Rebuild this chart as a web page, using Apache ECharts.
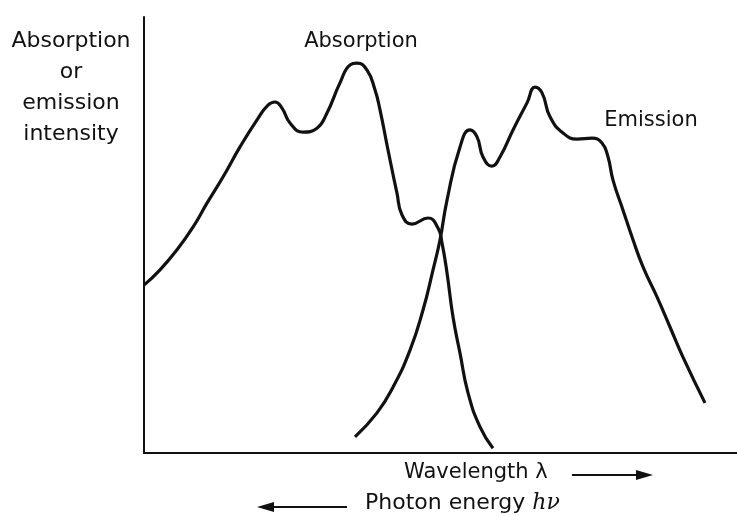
<!DOCTYPE html>
<html>
<head>
<meta charset="utf-8">
<script src="https://cdn.jsdelivr.net/npm/echarts@6/dist/echarts.min.js"></script>
<style>html,body{margin:0;padding:0;background:#fff}#c{width:737px;height:516px}</style>
</head>
<body>
<div id="c"></div>
<script>
// Absorption spectrum: [wavelength (arb.), intensity (arb.)]
var absorption = [
  [0,38.5],[2.70,42.0],[5.56,46.6],[8.26,51.8],[10.62,57.3],[13.32,63.3],[16.19,70.2],
  [19.06,76.4],[20.91,79.8],[22.09,80.5],[23.27,79.1],[24.62,75.7],[26.81,73.6],
  [29.17,74.5],[30.86,78.0],[33.05,84.9],[34.74,89.0],[35.92,89.4],[37.61,87.8],
  [38.95,83.3],[39.80,78.7],[41.15,69.5],[42.66,59.6],[43.51,54.6],[45.19,52.5],
  [47.89,53.9],[49.58,51.6],[50.25,48.2],[51.10,41.3],[52.11,31.2],[53.29,22.9],
  [54.64,13.8],[56.66,6.0],[58.85,1.1]
];
// Emission spectrum
var emission = [
  [35.58,3.7],[39.29,9.2],[41.99,15.1],[44.86,23.6],[47.05,32.8],[48.74,42.0],
  [49.92,48.9],[51.10,58.0],[53.29,70.2],[54.97,74.1],[56.16,72.5],[57.17,67.9],
  [58.68,65.8],[60.03,67.9],[62.23,74.1],[64.59,80.3],[65.94,83.9],[67.12,82.6],
  [68.47,77.1],[70.66,73.4],[73.02,72.0],[75.55,72.2],[77.23,71.1],[78.25,67.9],
  [79.09,62.6],[80.78,55.7],[82.46,48.9],[84.15,42.7],[86.51,35.8],[88.70,28.9],
  [90.89,22.0],[94.60,11.5]
];
var yLabelLines = ['Absorption','or','emission','intensity'];
var absLabel = 'Absorption';
var emiLabel = 'Emission';
var xLabel1 = 'Wavelength \u03bb';
var xLabel2 = 'Photon energy ';
var hnu = 'h\u03bd';

var chart = echarts.init(document.getElementById('c'), null, {renderer:'canvas'});
var font = 'DejaVu Sans';
var ink = '#111';
var gfx = [];
var yLineY = [41,72,103,134];
yLabelLines.forEach(function(t,i){
  gfx.push({type:'text', x:71, y:yLineY[i],
    style:{text:t, font:'22px "'+font+'"', fill:ink, textAlign:'center', textVerticalAlign:'middle'}});
});
gfx.push({type:'text', x:361, y:42, style:{text:absLabel, font:'21px "'+font+'"', fill:ink, textAlign:'center', textVerticalAlign:'middle'}});
gfx.push({type:'text', x:651, y:121, style:{text:emiLabel, font:'21px "'+font+'"', fill:ink, textAlign:'center', textVerticalAlign:'middle'}});
gfx.push({type:'text', x:404, y:473, style:{text:xLabel1, font:'21px "'+font+'"', fill:ink, textAlign:'left', textVerticalAlign:'middle'}});
gfx.push({type:'text', x:365, y:503, style:{
  text:'{a|'+xLabel2+'}{b|'+hnu+'}', textAlign:'left', textVerticalAlign:'middle',
  rich:{a:{fontFamily:font, fontSize:22, fill:ink}, b:{fontFamily:'DejaVu Serif', fontStyle:'italic', fontSize:22, fill:ink}}}});
// arrows
gfx.push({type:'line', shape:{x1:572,y1:475,x2:640,y2:475}, style:{stroke:ink, lineWidth:2}});
gfx.push({type:'polygon', shape:{points:[[653,475],[636,470],[636,480]]}, style:{fill:ink}});
gfx.push({type:'line', shape:{x1:347,y1:507,x2:270,y2:507}, style:{stroke:ink, lineWidth:2}});
gfx.push({type:'polygon', shape:{points:[[257,507],[274,502],[274,512]]}, style:{fill:ink}});

chart.setOption({
  animation:false,
  backgroundColor:'#fff',
  grid:{left:144, right:0, top:17, bottom:63},
  xAxis:{type:'value', min:0, max:100, axisLine:{show:true, lineStyle:{color:ink, width:2}}, axisTick:{show:false}, axisLabel:{show:false}, splitLine:{show:false}},
  yAxis:{type:'value', min:0, max:100, axisLine:{show:true, lineStyle:{color:ink, width:2}}, axisTick:{show:false}, axisLabel:{show:false}, splitLine:{show:false}},
  series:[
    {type:'line', name:'Absorption', data:absorption, smooth:0.5, showSymbol:false, lineStyle:{color:ink, width:3.2}, clip:false},
    {type:'line', name:'Emission', data:emission, smooth:0.5, showSymbol:false, lineStyle:{color:ink, width:3.2}, clip:false}
  ],
  graphic:gfx
});
</script>
</body>
</html>
